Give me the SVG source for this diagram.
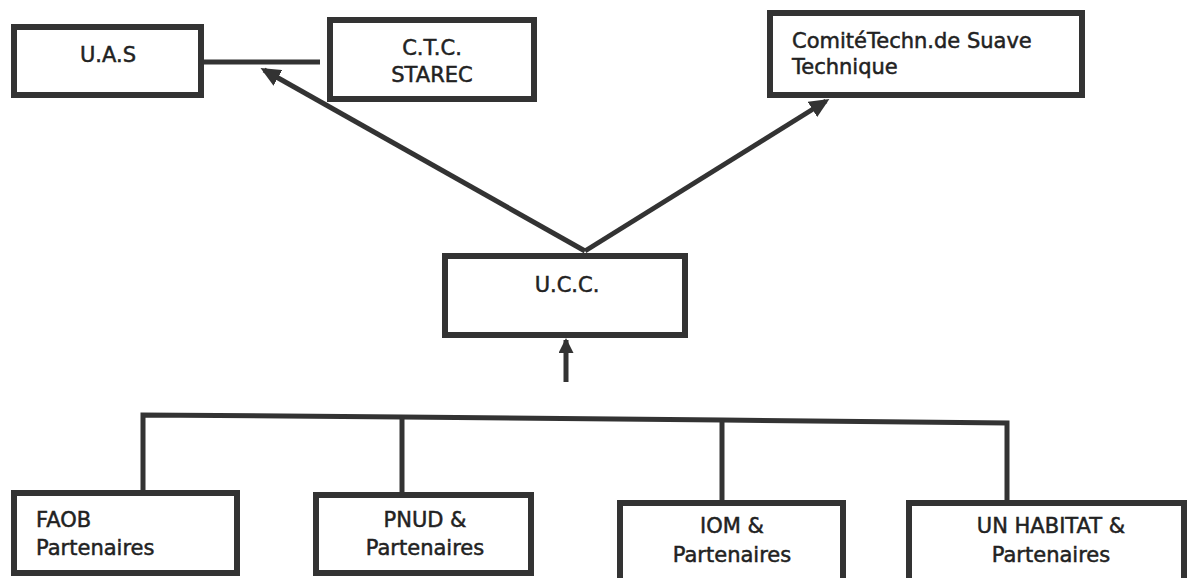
<svg xmlns="http://www.w3.org/2000/svg" width="1190" height="578" viewBox="0 0 1190 578">
<style>
.box{fill:#fff;stroke:#333;stroke-width:6}
.ln{fill:none;stroke:#333;stroke-width:5}
.t{font-family:"DejaVu Sans","Liberation Sans",sans-serif;font-size:21px;fill:#222;stroke:#222;stroke-width:0.5;text-anchor:middle}
.tl{text-anchor:start}
</style>
<defs>
<marker id="ah" markerWidth="4" markerHeight="3.6" refX="3.2" refY="1.8" orient="auto" markerUnits="strokeWidth">
<path d="M0,0 L4,1.8 L0,3.6 Z" fill="#333"/>
</marker>
<marker id="ahs" markerWidth="3" markerHeight="3" refX="2.6" refY="1.5" orient="auto" markerUnits="strokeWidth">
<path d="M0,0 L3,1.5 L0,3 Z" fill="#333"/>
</marker>
</defs>
<rect width="1190" height="578" fill="#fff"/>
<g id="connectors">
<line class="ln" x1="204" y1="62" x2="320" y2="62"/>
<line class="ln" x1="585" y1="251" x2="264" y2="70" stroke-width="6" marker-end="url(#ah)"/>
<line class="ln" x1="585" y1="251" x2="826" y2="101" stroke-width="6" marker-end="url(#ah)"/>
<line class="ln" x1="566" y1="382" x2="566" y2="340" marker-end="url(#ahs)"/>
<polyline class="ln" points="143,490 143,415 402,417 722,420 1007,423 1007,500"/>
<line class="ln" x1="402" y1="417" x2="402" y2="492"/>
<line class="ln" x1="722" y1="420" x2="722" y2="500"/>
</g>
<g id="uas">
<rect class="box" x="14" y="27" width="187" height="68"/>
<text class="t" x="108" y="62">U.A.S</text>
</g>
<g id="ctc">
<rect class="box" x="330" y="20" width="204" height="79"/>
<text class="t" x="432" y="55">C.T.C.</text>
<text class="t" x="432" y="82">STAREC</text>
</g>
<g id="comite">
<rect class="box" x="770" y="13" width="312" height="82"/>
<text class="t tl" x="792" y="48">ComitéTechn.de Suave</text>
<text class="t tl" x="792" y="74">Technique</text>
</g>
<g id="ucc">
<rect class="box" x="445" y="256" width="240" height="79"/>
<text class="t" x="567" y="292">U.C.C.</text>
</g>
<g id="fao">
<rect class="box" x="14" y="493" width="223" height="80"/>
<text class="t tl" x="36" y="527">FAOB</text>
<text class="t tl" x="36" y="555">Partenaires</text>
</g>
<g id="pnud">
<rect class="box" x="316" y="495" width="215" height="78"/>
<text class="t" x="425" y="527">PNUD &amp;</text>
<text class="t" x="425" y="555">Partenaires</text>
</g>
<g id="iom">
<rect class="box" x="620" y="503" width="223" height="85"/>
<text class="t" x="732" y="533">IOM &amp;</text>
<text class="t" x="732" y="562">Partenaires</text>
</g>
<g id="unhabitat">
<rect class="box" x="909" y="503" width="275" height="85"/>
<text class="t" x="1051" y="533">UN HABITAT &amp;</text>
<text class="t" x="1051" y="562">Partenaires</text>
</g>
</svg>
